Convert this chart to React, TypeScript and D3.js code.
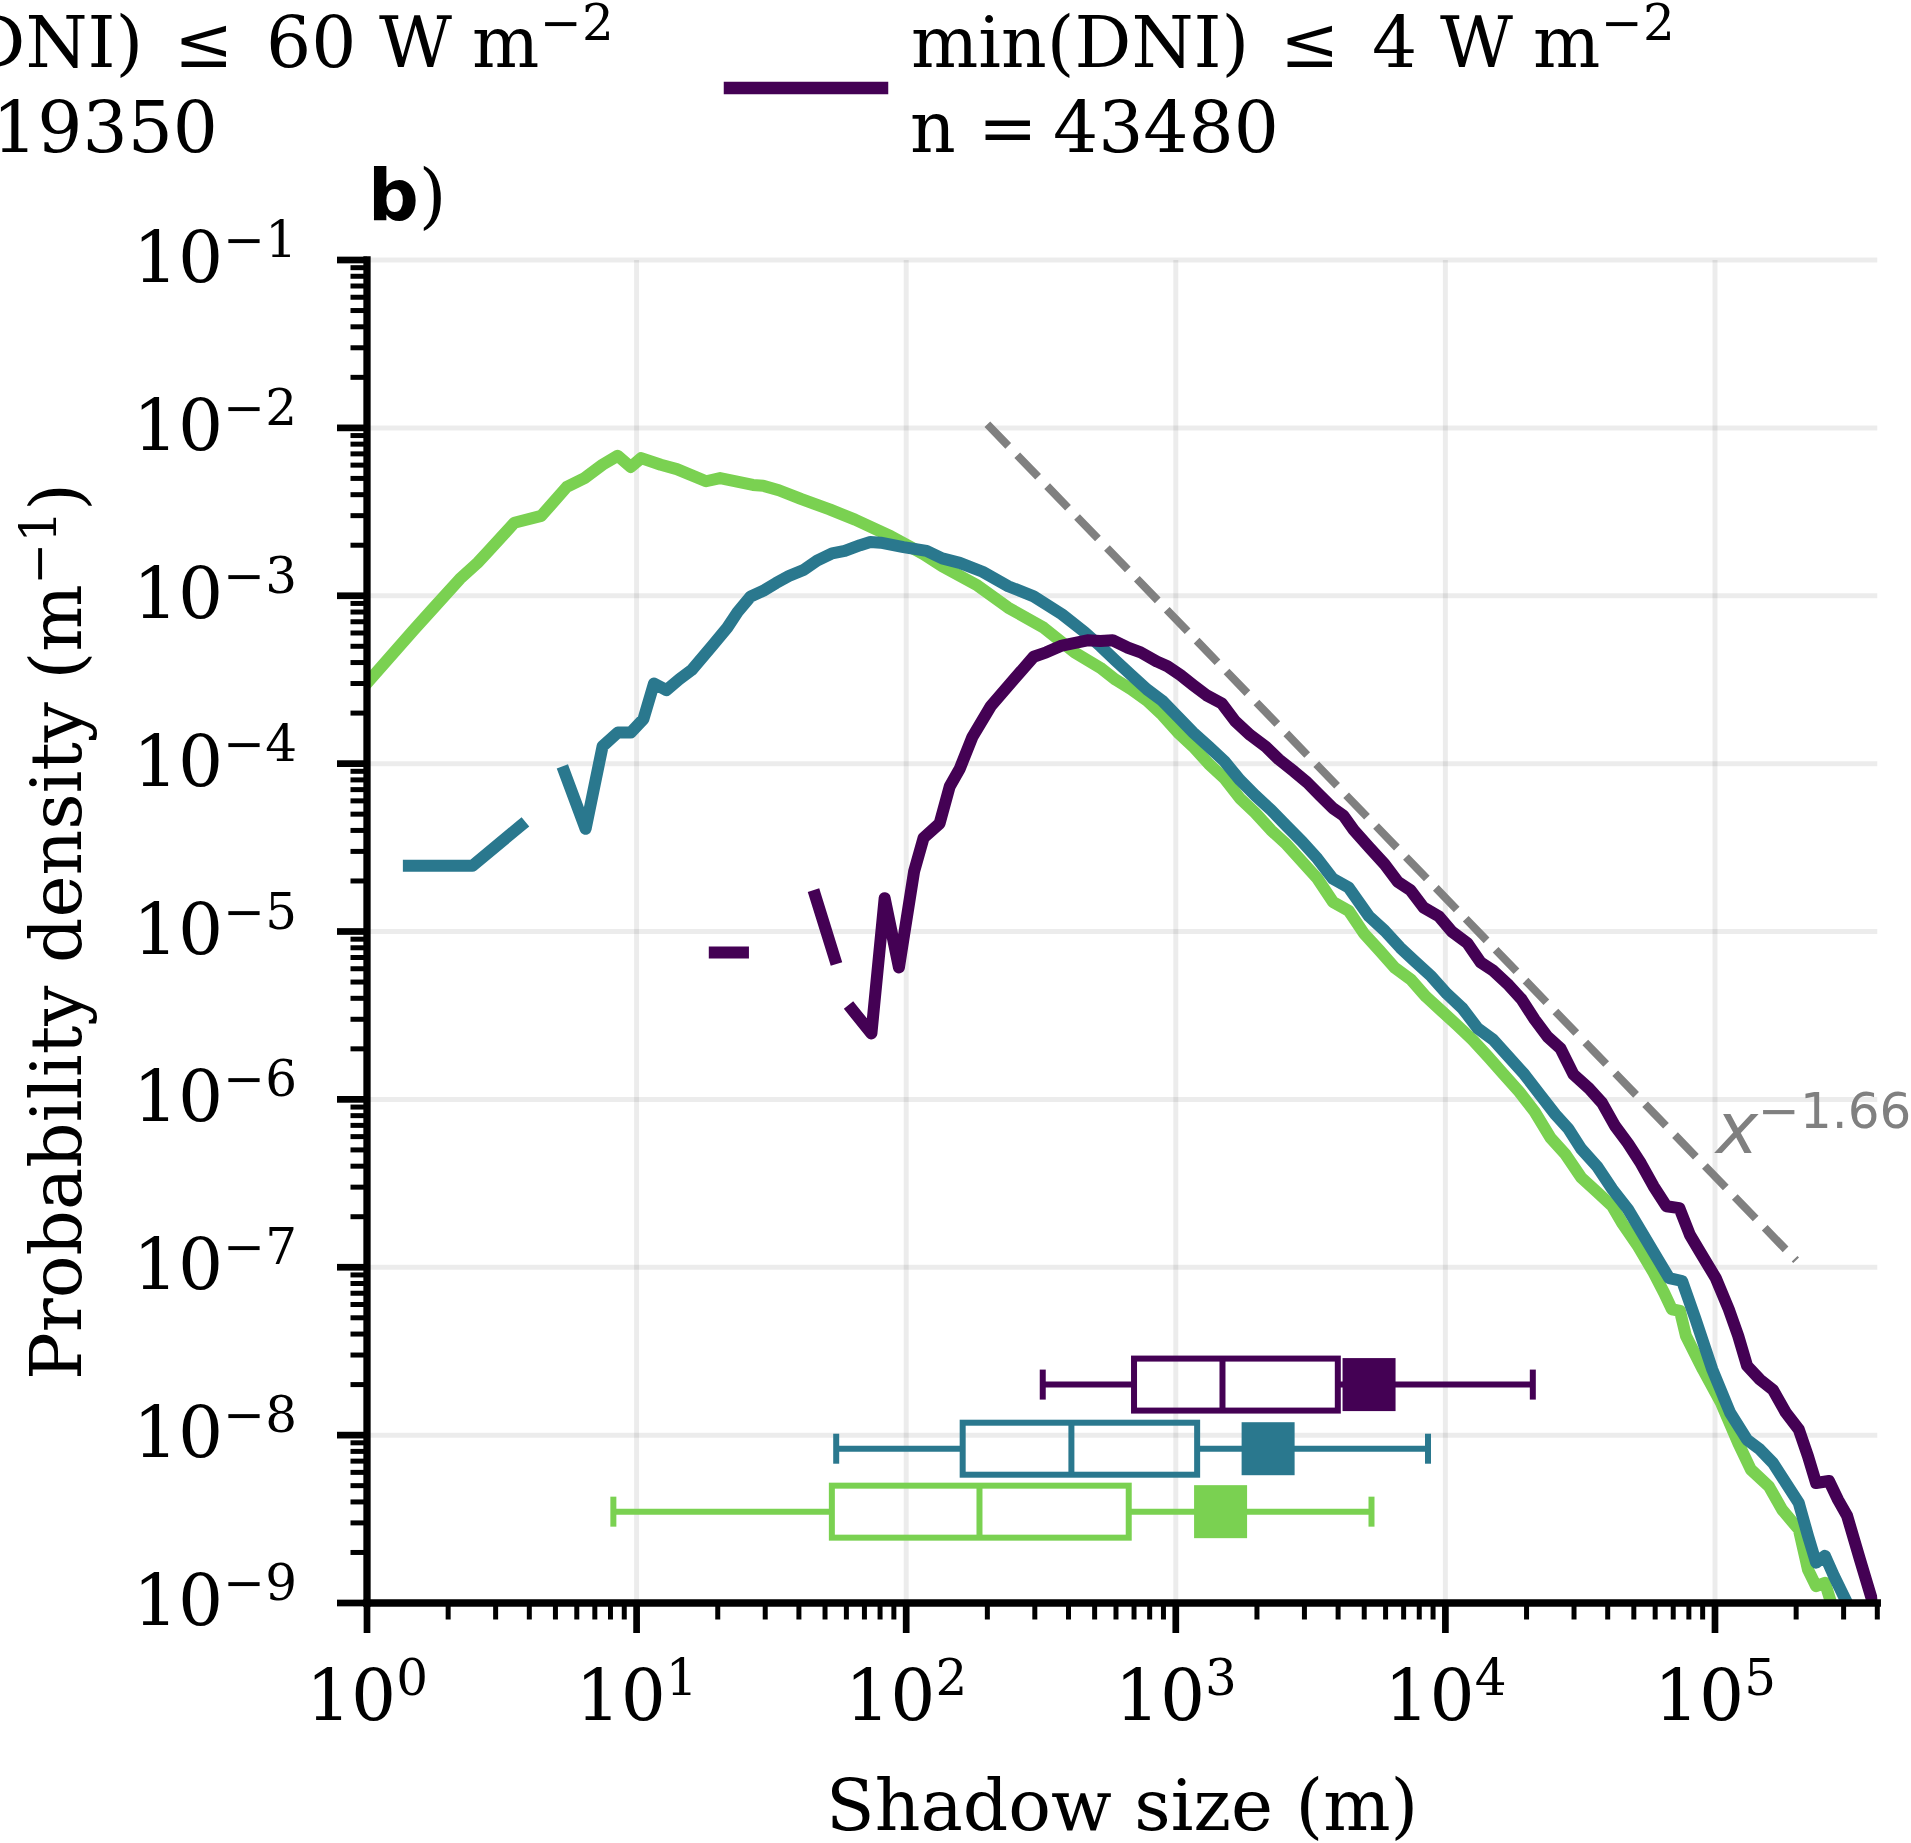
import React from 'react';
import * as d3 from 'd3';

const W = 1911;
const H = 1843;

const COLOR_GREEN = '#7ad151';
const COLOR_TEAL = '#2a788e';
const COLOR_PURPLE = '#440154';

// ---- Green series (shadow size m, probability density m^-1)
const greenSize = [1, 1.49, 1.74, 2.21, 2.57, 2.81, 3.52, 4.43, 5.51, 6.41, 7.48, 8.51, 9.51, 10.4, 12.3, 14.1, 18.1, 20.4, 27.0, 29.5, 33.7, 40.9, 52.0, 64.6, 87.7, 116, 136, 184, 239, 324, 421, 525, 598, 684, 782, 891, 1019, 1161, 1327, 1514, 1730, 1972, 2254, 2576, 2938, 3357, 3828, 4375, 4989, 5702, 6501, 7430, 8472, 9683, 11070, 12620, 14420, 16440, 18790, 21430, 24490, 27930, 31920, 36480, 41590, 45390, 51880, 59160, 64710, 69180, 74130, 77980, 90160, 105200, 121900, 135800, 158500, 177400, 204600, 221300, 237100, 255900, 281800];
const greenDensity = [3.02e-4, 6.25e-4, 8.24e-4, 1.26e-3, 1.57e-3, 1.83e-3, 2.72e-3, 2.99e-3, 4.45e-3, 5.02e-3, 6.04e-3, 6.82e-3, 5.85e-3, 6.61e-3, 6.03e-3, 5.68e-3, 4.81e-3, 5.02e-3, 4.57e-3, 4.52e-3, 4.25e-3, 3.76e-3, 3.27e-3, 2.84e-3, 2.26e-3, 1.77e-3, 1.50e-3, 1.15e-3, 8.49e-4, 6.44e-4, 4.60e-4, 3.72e-4, 3.16e-4, 2.77e-4, 2.37e-4, 1.95e-4, 1.53e-4, 1.26e-4, 9.95e-5, 8.18e-5, 6.21e-5, 5.09e-5, 4.02e-5, 3.30e-5, 2.61e-5, 2.06e-5, 1.50e-5, 1.33e-5, 9.73e-6, 7.69e-6, 6.07e-6, 5.19e-6, 4.09e-6, 3.36e-6, 2.76e-6, 2.26e-6, 1.79e-6, 1.41e-6, 1.11e-6, 8.45e-7, 5.93e-7, 4.69e-7, 3.42e-7, 2.81e-7, 2.31e-7, 1.82e-7, 1.33e-7, 9.31e-8, 7.06e-8, 5.62e-8, 5.50e-8, 3.91e-8, 2.46e-8, 1.56e-8, 8.99e-9, 6.24e-9, 4.95e-9, 3.60e-9, 2.74e-9, 1.58e-9, 1.26e-9, 1.32e-9, 7.94e-10];

// ---- Teal series (null = empty bin, line break)
const tealSize = [1.43, 2.46, 3.72, null, 5.40, 6.47, 7.48, 8.51, 9.51, 10.6, 11.6, 12.9, 14.4, 16.0, 19.1, 21.7, 23.7, 26.5, 29.5, 32.9, 36.7, 41.8, 46.7, 53.1, 59.2, 67.5, 73.6, 80.4, 97.7, 119, 136, 158, 192, 239, 297, 378, 459, 525, 598, 684, 782, 891, 1019, 1161, 1327, 1514, 1730, 1972, 2254, 2576, 2938, 3357, 3828, 4375, 4775, 5212, 5957, 6808, 7762, 8872, 10120, 11560, 13180, 15070, 17180, 19630, 22390, 25590, 28580, 31920, 36480, 41590, 47530, 54200, 61940, 67610, 75510, 84330, 97720, 113800, 131500, 146900, 164100, 183200, 204600, 221300, 237100, 255900, 276100, 309000, 323600];
const tealDensity = [2.46e-5, 2.46e-5, 4.27e-5, null, 8.91e-5, 4.09e-5, 1.27e-4, 1.53e-4, 1.53e-4, 1.84e-4, 3.00e-4, 2.74e-4, 3.18e-4, 3.61e-4, 5.05e-4, 6.46e-4, 8.00e-4, 9.91e-4, 1.07e-3, 1.19e-3, 1.31e-3, 1.43e-3, 1.62e-3, 1.79e-3, 1.85e-3, 2.00e-3, 2.09e-3, 2.07e-3, 1.95e-3, 1.85e-3, 1.67e-3, 1.57e-3, 1.39e-3, 1.14e-3, 9.91e-4, 7.76e-4, 6.07e-4, 5.01e-4, 4.11e-4, 3.37e-4, 2.77e-4, 2.37e-4, 1.90e-4, 1.53e-4, 1.26e-4, 1.035e-4, 7.98e-5, 6.46e-5, 5.30e-5, 4.25e-5, 3.44e-5, 2.71e-5, 2.06e-5, 1.83e-5, 1.50e-5, 1.23e-5, 1.01e-5, 8.00e-6, 6.56e-6, 5.40e-6, 4.26e-6, 3.49e-6, 2.65e-6, 2.26e-6, 1.79e-6, 1.41e-6, 1.07e-6, 8.13e-7, 6.68e-7, 5.07e-7, 4.00e-7, 2.92e-7, 2.22e-7, 1.56e-7, 1.09e-7, 8.61e-8, 8.28e-8, 5.01e-8, 2.46e-8, 1.36e-8, 9.40e-9, 8.20e-9, 6.82e-9, 5.19e-9, 3.94e-9, 2.51e-9, 1.74e-9, 1.91e-9, 1.45e-9, 1.0e-9, 8.91e-10];

// ---- Purple series (null = empty bin, line break)
const purpleSize = [19.5, 24.8, null, 46.0, 54.3, null, 63.1, 74.3, 83.2, 94.0, 107, 116, 133, 145, 158, 176, 206, 249, 297, 331, 378, 470, 525, 583, 665, 741, 853, 931, 1040, 1161, 1297, 1483, 1656, 1888, 2158, 2410, 2748, 3069, 3428, 3828, 4188, 4571, 5212, 5957, 6653, 7430, 8299, 9462, 10570, 12080, 13490, 15070, 17180, 19190, 21430, 23930, 26730, 29850, 34120, 38110, 42560, 47530, 53090, 59160, 66070, 73790, 80720, 88100, 100700, 112500, 121900, 131500, 146900, 164100, 183200, 204600, 221300, 237100, 264900, 285800, 309000, 345100, 385500, 398100];
const purpleDensity = [7.50e-6, 7.50e-6, null, 1.63e-5, 6.92e-6, null, 3.42e-6, 2.47e-6, 1.58e-5, 6.11e-6, 2.28e-5, 3.61e-5, 4.40e-5, 7.31e-5, 9.33e-5, 1.44e-4, 2.20e-4, 3.13e-4, 4.33e-4, 4.60e-4, 5.05e-4, 5.43e-4, 5.37e-4, 5.43e-4, 4.90e-4, 4.60e-4, 4.05e-4, 3.80e-4, 3.37e-4, 2.93e-4, 2.56e-4, 2.28e-4, 1.80e-4, 1.48e-4, 1.26e-4, 1.06e-4, 8.97e-5, 7.73e-5, 6.46e-5, 5.42e-5, 4.90e-5, 4.02e-5, 3.18e-5, 2.51e-5, 1.98e-5, 1.76e-5, 1.39e-5, 1.23e-5, 9.98e-6, 8.51e-6, 6.56e-6, 5.83e-6, 4.79e-6, 3.94e-6, 2.99e-6, 2.36e-6, 2.01e-6, 1.41e-6, 1.16e-6, 9.53e-7, 6.95e-7, 5.48e-7, 4.16e-7, 3.04e-7, 2.31e-7, 2.25e-7, 1.56e-7, 1.23e-7, 8.61e-8, 5.62e-8, 3.91e-8, 2.59e-8, 2.14e-8, 1.86e-8, 1.36e-8, 1.08e-8, 7.48e-9, 5.19e-9, 5.33e-9, 4.13e-9, 3.31e-9, 1.81e-9, 1.0e-9, 8.32e-10];

// ---- Box plot statistics (green, teal, purple)
const boxColors = [COLOR_GREEN, COLOR_TEAL, COLOR_PURPLE];
const boxWhiskerLow = [8.2, 55, 321];
const boxQ1 = [53, 162, 700];
const boxMedian = [187, 410, 1490];
const boxQ3 = [669, 1200, 3990];
const boxMean = [1466, 2200, 5210];
const boxWhiskerHigh = [5320, 8620, 21100];
const boxPosition = [3.5e-9, 8.3e-9, 2.0e-8];

// ---- Power-law reference
const powerLawExponent = -1.66;
const powerLawRange = [200, 2e5];
const powerLawAt200 = 1.05e-2;

// ---- Ticks
const xTickExponents = [0, 1, 2, 3, 4, 5];
const yTickExponents = [-9, -8, -7, -6, -5, -4, -3, -2, -1];

// ---- Legend
const legendThresholds = ['60', '4'];
const legendCounts = ['119350', '43480'];
const legendColors = [COLOR_TEAL, COLOR_PURPLE];

const SERIF = "'DejaVu Serif', serif";
const SANS = "'DejaVu Sans', sans-serif";
const FS = 71;
const SUP = 50;

const x = d3.scaleLog().domain([1, 4e5]).range([367, 1877.3]);
const y = d3.scaleLog().domain([1e-9, 1e-1]).range([1603, 260]);

function makePath(sizes: (number | null)[], dens: (number | null)[]) {
  const pts = sizes.map((s, i) => [s, dens[i]] as [number | null, number | null]);
  const line = d3
    .line<[number | null, number | null]>()
    .defined((d) => d[0] != null && d[1] != null)
    .x((d) => x(d[0] as number))
    .y((d) => y(d[1] as number));
  return line(pts) || '';
}

function LegendEntry({ x0, value, n, color }: { x0: number; value: string; n: string; color: string }) {
  const extra = (value.length - 1) * 45;
  const y1 = 67;
  const y2 = 152;
  return (
    <g fontFamily={SERIF} fontSize={FS} fill="#000">
      <line x1={x0 - 183} x2={x0 - 31} y1={88} y2={88} stroke={color} strokeWidth={12.5} strokeLinecap="square" />
      <text x={x0 - 2} y={y1}>min(DNI)</text>
      <text x={x0 + 367} y={y1}>≤</text>
      <text x={x0 + 459} y={y1}>{value}</text>
      <text x={x0 + 527 + extra} y={y1}>W</text>
      <text x={x0 + 620 + extra} y={y1}>m</text>
      <text x={x0 + 688 + extra} y={y1 - 27} fontSize={SUP}>−2</text>
      <text x={x0 - 3} y={y2}>n</text>
      <text x={x0 + 65} y={y2}>=</text>
      <text x={x0 + 140} y={y2}>{n}</text>
    </g>
  );
}

export default function App() {
  const minorX = x.ticks().filter((t) => {
    const m = t / Math.pow(10, Math.floor(Math.log10(t) + 1e-9));
    return Math.abs(m - 1) > 1e-6;
  });
  const minorY = y.ticks().filter((t) => {
    const m = t / Math.pow(10, Math.floor(Math.log10(t) + 1e-9));
    return Math.abs(m - 1) > 1e-6;
  });
  const [x0, x1] = x.range();
  const [yb, yt] = y.range();

  const plX = powerLawRange;
  const plY = plX.map((v) => powerLawAt200 * Math.pow(v / powerLawRange[0], powerLawExponent));

  return (
    <svg
      width={W}
      height={H}
      viewBox={`0 0 ${W} ${H}`}
      style={{ position: 'absolute', left: 0, top: 0, background: '#fff' }}
    >
      <defs>
        <clipPath id="plotClip">
          <rect x={x0} y={yt} width={x1 - x0} height={yb - yt} />
        </clipPath>
      </defs>
      <rect x={0} y={0} width={W} height={H} fill="#fff" />

      {/* grid */}
      <g stroke="#000" strokeOpacity={0.075} strokeWidth={5}>
        {yTickExponents.map((e) => (
          <line key={'gy' + e} x1={x0} x2={x1} y1={y(Math.pow(10, e))} y2={y(Math.pow(10, e))} />
        ))}
        {xTickExponents.map((e) => (
          <line key={'gx' + e} x1={x(Math.pow(10, e))} x2={x(Math.pow(10, e))} y1={yt} y2={yb} />
        ))}
      </g>

      {/* curves */}
      <g clipPath="url(#plotClip)" fill="none" strokeWidth={12} strokeLinejoin="round" strokeLinecap="square">
        <path d={makePath(greenSize, greenDensity)} stroke={COLOR_GREEN} />
        <path d={makePath(tealSize, tealDensity)} stroke={COLOR_TEAL} />
        <path d={makePath(purpleSize, purpleDensity)} stroke={COLOR_PURPLE} />
      </g>

      {/* power law */}
      <line
        x1={x(plX[0])}
        y1={y(plY[0])}
        x2={x(plX[1])}
        y2={y(plY[1])}
        stroke="#808080"
        strokeWidth={8}
        strokeDasharray="30 13"
      />
      <text x={1716} y={1153} fontFamily={SANS} fontSize={FS} fill="#808080">
        <tspan fontStyle="oblique">x</tspan>
        <tspan dy={-25} fontSize={SUP}>−1.66</tspan>
      </text>

      {/* box plots */}
      {boxColors.map((c, i) => {
        const cy = y(boxPosition[i]);
        const hh = 26;
        const cap = 15;
        return (
          <g key={'box' + i} stroke={c} strokeWidth={6} fill="none">
            <line x1={x(boxWhiskerLow[i])} x2={x(boxQ1[i])} y1={cy} y2={cy} />
            <line x1={x(boxQ3[i])} x2={x(boxWhiskerHigh[i])} y1={cy} y2={cy} />
            <line x1={x(boxWhiskerLow[i])} x2={x(boxWhiskerLow[i])} y1={cy - cap} y2={cy + cap} />
            <line x1={x(boxWhiskerHigh[i])} x2={x(boxWhiskerHigh[i])} y1={cy - cap} y2={cy + cap} />
            <rect x={x(boxQ1[i])} y={cy - hh} width={x(boxQ3[i]) - x(boxQ1[i])} height={hh * 2} />
            <line x1={x(boxMedian[i])} x2={x(boxMedian[i])} y1={cy - hh} y2={cy + hh} />
            <rect x={x(boxMean[i]) - 26.5} y={cy - 26.5} width={53} height={53} fill={c} stroke="none" />
          </g>
        );
      })}

      {/* spines */}
      <g stroke="#000" strokeWidth={7.3} strokeLinecap="square">
        <line x1={x0} x2={x0} y1={yt} y2={yb} />
        <line x1={x0} x2={x1} y1={yb} y2={yb} />
      </g>

      {/* ticks */}
      <g stroke="#000">
        {xTickExponents.map((e) => (
          <line key={'xt' + e} x1={x(Math.pow(10, e))} x2={x(Math.pow(10, e))} y1={yb} y2={yb + 30} strokeWidth={6.7} />
        ))}
        {minorX.map((t, i) => (
          <line key={'xm' + i} x1={x(t)} x2={x(t)} y1={yb} y2={yb + 16.5} strokeWidth={5} />
        ))}
        {yTickExponents.map((e) => (
          <line key={'yt' + e} x1={x0 - 30} x2={x0} y1={y(Math.pow(10, e))} y2={y(Math.pow(10, e))} strokeWidth={6.7} />
        ))}
        {minorY.map((t, i) => (
          <line key={'ym' + i} x1={x0 - 16.5} x2={x0} y1={y(t)} y2={y(t)} strokeWidth={5} />
        ))}
      </g>

      {/* tick labels */}
      <g fontFamily={SERIF} fontSize={FS} fill="#000">
        {xTickExponents.map((e) => (
          <text key={'xl' + e} x={x(Math.pow(10, e))} y={1720} textAnchor="middle">
            10<tspan dy={-25} fontSize={SUP}>{String(e)}</tspan>
          </text>
        ))}
        {yTickExponents.map((e) => (
          <text key={'yl' + e} x={297} y={y(Math.pow(10, e)) + 22} textAnchor="end">
            10<tspan dy={-25} fontSize={SUP}>{'−' + String(-e)}</tspan>
          </text>
        ))}
      </g>

      {/* axis labels */}
      <text x={(x0 + x1) / 2} y={1830} textAnchor="middle" fontFamily={SERIF} fontSize={FS}>
        Shadow size (m)
      </text>
      <text
        transform={`translate(81, ${(yt + yb) / 2}) rotate(-90)`}
        textAnchor="middle"
        fontFamily={SERIF}
        fontSize={FS}
      >
        Probability density (m<tspan dy={-25} fontSize={SUP}>−1</tspan>
        <tspan dy={25}>)</tspan>
      </text>

      {/* panel label */}
      <text x={368} y={220} fontSize={FS}>
        <tspan fontFamily={SANS} fontWeight="bold">b</tspan>
        <tspan fontFamily={SERIF}>)</tspan>
      </text>

      {/* legend */}
      <LegendEntry x0={-193} value={legendThresholds[0]} n={legendCounts[0]} color={legendColors[0]} />
      <LegendEntry x0={913} value={legendThresholds[1]} n={legendCounts[1]} color={legendColors[1]} />
    </svg>
  );
}
